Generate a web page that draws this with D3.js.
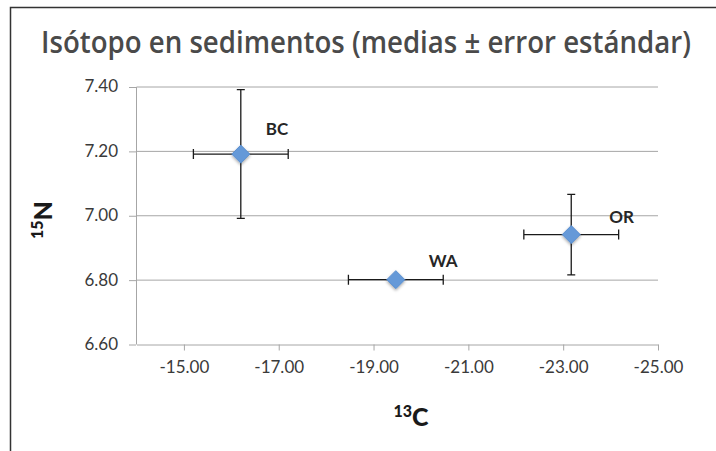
<!DOCTYPE html>
<html>
<head>
<meta charset="utf-8">
<script src="https://cdn.jsdelivr.net/npm/d3@7"></script>
<style>
  body { margin: 0; background: #fff; }
  svg { display: block; }
</style>
</head>
<body>
<svg id="chart" width="716" height="451"></svg>
<script>
// sites, means and standard errors
const sites = ["BC", "WA", "OR"];
const c13 = [-16.20, -19.47, -23.17];
const n15 = [7.19, 6.80, 6.94];
const c13Err = [1.0, 1.0, 1.0];
const n15Err = [0.20, 0.0, 0.125];

const xTicks = [-15, -17, -19, -21, -23, -25];
const yTicks = [6.6, 6.8, 7.0, 7.2, 7.4];

// label nudges (px) from each point
const labelDx = [25, 33, 38];
const labelDy = [-19, -13, -12];

const svg = d3.select("#chart");

let x = d3.scaleLinear().domain([-14, -25]).range([136.5, 658]),
  y = d3.scaleLinear().domain([6.6, 7.4]).range([344, 86.5]);

// excel style numbers, plain hyphen for the minus
let fmt = d => d3.format(".2f")(d).replace("\u2212", "-");

// outer frame (only top and left edges are visible)
svg.append("path")
  .attr("d", "M10.5,451 V7.5 H716")
  .attr("fill", "none")
  .attr("stroke", "#333")
  .attr("stroke-width", 1.5);

// title: squeeze horizontally to look like the condensed original
let title = svg.append("text")
  .attr("font-family", "'Open Sans', sans-serif")
  .attr("font-weight", 600)
  .attr("font-size", 31)
  .attr("fill", "#4a4a4a")
  .text("Isótopo en sedimentos (medias ± error estándar)");
let sx = 650 / title.node().getComputedTextLength();
title.attr("transform", `translate(41,53) scale(${sx},1)`);

let defs = svg.append("defs");
let f = defs.append("filter").attr("id", "glow")
  .attr("x", "-50%").attr("y", "-50%").attr("width", "200%").attr("height", "200%");
f.append("feDropShadow")
  .attr("dx", 0).attr("dy", 1.5)
  .attr("stdDeviation", 1.6)
  .attr("flood-color", "#000")
  .attr("flood-opacity", 0.35);

// gridlines
svg.append("g")
  .selectAll("line")
  .data(yTicks.slice(1)).enter()
  .append("line")
  .attr("x1", x.range()[0])
  .attr("x2", x.range()[1])
  .attr("y1", d => y(d) + 0.5)
  .attr("y2", d => y(d) + 0.5)
  .attr("stroke", "#a6a6a6");

let xAxis = svg.append("g")
  .attr("transform", `translate(0,${y(6.6) + 0.5})`)
  .call(d3.axisBottom(x).tickValues(xTicks).tickSize(6).tickSizeOuter(0)
    .tickFormat(fmt).tickPadding(10));

let yAxis = svg.append("g")
  .attr("transform", `translate(${x(-14) - 0.5},0)`)
  .call(d3.axisLeft(y).tickValues(yTicks).tickSize(7).tickSizeOuter(0)
    .tickFormat(fmt).tickPadding(11));

[xAxis, yAxis].forEach(g => {
  g.select(".domain").attr("stroke", "#a6a6a6");
  g.selectAll(".tick line").attr("stroke", "#a6a6a6");
  g.selectAll(".tick text")
    .attr("font-family", "Lato, 'Open Sans', sans-serif")
    .attr("font-size", 17)
    .attr("fill", "#3a3a3a");
});
yAxis.selectAll(".tick line").attr("transform", "translate(0,0.5)");

// error bars
let pts = sites.map((s, i) => ({
  name: s, cx: c13[i], ny: n15[i], ex: c13Err[i], ey: n15Err[i],
  dx: labelDx[i], dy: labelDy[i]
}));

let bars = svg.append("g")
  .attr("stroke", "#1a1a1a")
  .attr("stroke-width", 1.3)
  .attr("fill", "none");

pts.forEach(d => {
  let px = x(d.cx), py = y(d.ny);
  let xl = x(d.cx + d.ex), xr = x(d.cx - d.ex);
  bars.append("path")
    .attr("d", `M${xl},${py} H${xr} M${xl},${py - 5} V${py + 5} M${xr},${py - 5} V${py + 5}`);
  if (d.ey > 0) {
    let yt = y(d.ny + d.ey), yb = y(d.ny - d.ey);
    bars.append("path")
      .attr("d", `M${px},${yt} V${yb} M${px - 4},${yt} H${px + 4} M${px - 4},${yb} H${px + 4}`);
  }
});

// diamond markers
let r = 9;
svg.append("g")
  .selectAll("path")
  .data(pts).enter()
  .append("path")
  .attr("d", d => {
    let px = x(d.cx), py = y(d.ny);
    return `M${px},${py - r} L${px + r},${py} L${px},${py + r} L${px - r},${py} Z`;
  })
  .attr("fill", "#6599d8")
  .attr("stroke", "#5a8fcf")
  .attr("stroke-width", 1)
  .attr("stroke-linejoin", "round")
  .attr("filter", "url(#glow)");

svg.append("g")
  .selectAll("text")
  .data(pts).enter()
  .append("text")
  .attr("x", d => x(d.cx) + d.dx)
  .attr("y", d => y(d.ny) + d.dy)
  .attr("font-family", "Lato, 'Open Sans', sans-serif")
  .attr("font-weight", "bold")
  .attr("font-size", 17)
  .attr("fill", "#262626")
  .text(d => d.name);

// axis titles
let xt = svg.append("text")
  .attr("x", 411)
  .attr("y", 426)
  .attr("text-anchor", "middle")
  .attr("font-family", "Lato, 'Open Sans', sans-serif")
  .attr("font-weight", 900)
  .attr("fill", "#1a1a1a");
xt.append("tspan").attr("font-size", 16).attr("dy", -9).text("13");
xt.append("tspan").attr("font-size", 25).attr("dy", 9).text("C");

let yt = svg.append("text")
  .attr("transform", "translate(52,220) rotate(-90)")
  .attr("text-anchor", "middle")
  .attr("font-family", "Lato, 'Open Sans', sans-serif")
  .attr("font-weight", 900)
  .attr("fill", "#1a1a1a");
yt.append("tspan").attr("font-size", 16).attr("dy", -9).text("15");
yt.append("tspan").attr("font-size", 25).attr("dy", 9).text("N");
</script>
</body>
</html>
